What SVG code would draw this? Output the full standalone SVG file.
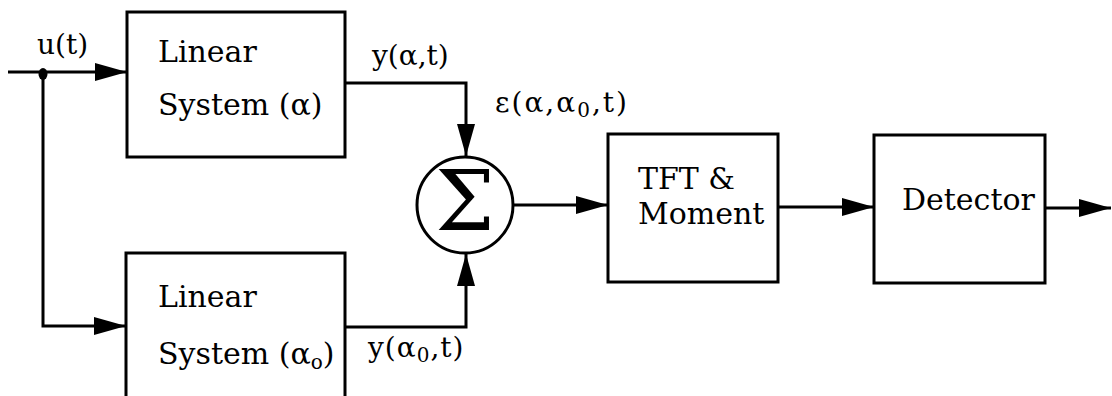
<svg xmlns="http://www.w3.org/2000/svg" width="1112" height="396" viewBox="0 0 1112 396">
<style>
.box{fill:#fff;stroke:#000;stroke-width:3}
.ln{fill:none;stroke:#000;stroke-width:3}
.t{font-family:"DejaVu Serif","Liberation Serif",serif;fill:#000}
.bt{font-size:30px}
.lb{font-size:28px}
</style>
<defs>
<marker id="ah" viewBox="0 0 32 18" refX="32" refY="9" markerWidth="32" markerHeight="18" markerUnits="userSpaceOnUse" orient="auto">
<path d="M0,0 L32,9 L0,18 Z" fill="#000"/>
</marker>
</defs>
<g id="connectors">
<line class="ln" x1="8" y1="72" x2="127" y2="72" marker-end="url(#ah)"/>
<ellipse cx="43" cy="74" rx="4.5" ry="6" fill="#000"/>
<polyline class="ln" points="43,72 43,326 126,326" marker-end="url(#ah)"/>
<polyline class="ln" points="345,83 466,83 466,156" marker-end="url(#ah)"/>
<polyline class="ln" points="345,327 466,327 466,254" marker-end="url(#ah)"/>
<line class="ln" x1="513" y1="205" x2="608" y2="205" marker-end="url(#ah)"/>
<line class="ln" x1="778" y1="207" x2="874" y2="207" marker-end="url(#ah)"/>
<line class="ln" x1="1045" y1="208" x2="1111" y2="208" marker-end="url(#ah)"/>
<text class="t lb" x="37" y="54">u(t)</text>
<text class="t lb" x="372" y="65">y(α,t)</text>
<text class="t lb" x="495" y="112" letter-spacing="2">ε(α,α<tspan font-size="20" dy="5">0</tspan><tspan dy="-5">,t)</tspan></text>
<text class="t lb" x="368" y="357" letter-spacing="1">y(α<tspan font-size="20" dy="5">0</tspan><tspan dy="-5">,t)</tspan></text>
</g>
<g id="sys1">
<rect class="box" x="127" y="12" width="218" height="145"/>
<text class="t bt" x="158" y="62">Linear</text>
<text class="t bt" x="158" y="115">System (α)</text>
</g>
<g id="sys2">
<rect class="box" x="126" y="253" width="219" height="160"/>
<text class="t bt" x="158" y="307">Linear</text>
<text class="t bt" x="158" y="364">System (α<tspan font-size="20" dy="5">o</tspan><tspan dy="-5">)</tspan></text>
</g>
<g id="sum">
<circle cx="465" cy="205" r="48" fill="#fff" stroke="#000" stroke-width="3"/>
<text class="t" x="465" y="230" font-size="84" text-anchor="middle" font-family="Liberation Serif">Σ</text>
</g>
<g id="tft">
<rect class="box" x="608" y="134" width="170" height="148"/>
<text class="t bt" x="638" y="189">TFT &amp;</text>
<text class="t bt" x="638" y="224">Moment</text>
</g>
<g id="detector">
<rect class="box" x="874" y="135" width="171" height="148"/>
<text class="t bt" x="902" y="210">Detector</text>
</g>
</svg>
